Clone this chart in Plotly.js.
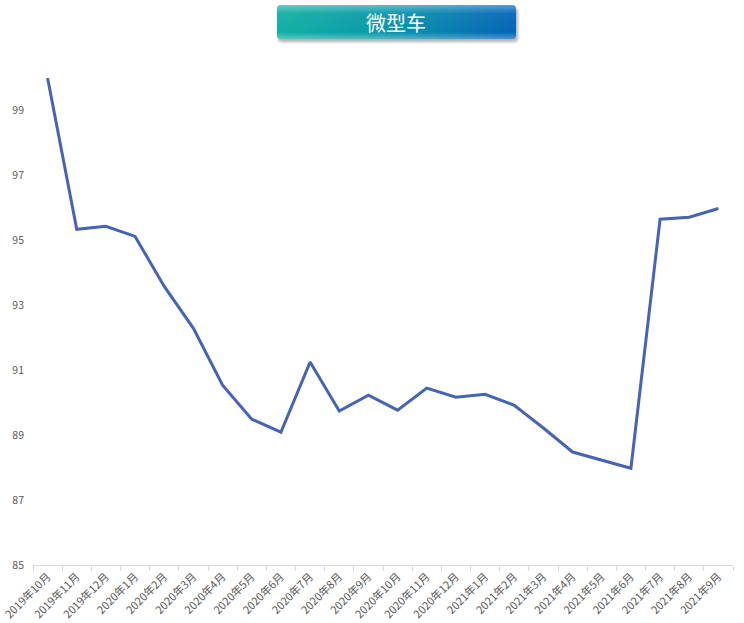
<!DOCTYPE html>
<html>
<head>
<meta charset="utf-8">
<script src="https://cdn.plot.ly/plotly-3.0.1.min.js"></script>
<style>
  html, body { margin: 0; padding: 0; background: #fff; }
  #chart { width: 744px; height: 623px; }
</style>
</head>
<body>
<div id="chart"></div>
<script>
var months = ['2019年10月', '2019年11月', '2019年12月', '2020年1月', '2020年2月', '2020年3月',
              '2020年4月', '2020年5月', '2020年6月', '2020年7月', '2020年8月', '2020年9月',
              '2020年10月', '2020年11月', '2020年12月', '2021年1月', '2021年2月', '2021年3月',
              '2021年4月', '2021年5月', '2021年6月', '2021年7月', '2021年8月', '2021年9月'];
var values = [100.0, 95.34, 95.43, 95.12, 93.58, 92.29,
              90.54, 89.49, 89.09, 91.25, 89.74, 90.23,
              89.77, 90.45, 90.17, 90.26, 89.92, 89.22,
              88.48, 88.23, 87.98, 95.65, 95.71, 95.98];
var yTicks = [85, 87, 89, 91, 93, 95, 97, 99];
var chartTitle = '微型车';

var W = 744, H = 623;
var margin = {l: 33, r: 11, t: 78, b: 58, pad: 0};

// title banner: gradient box drawn as an svg image
var svg = '<svg xmlns="http://www.w3.org/2000/svg" width="250" height="42">' +
  '<defs><linearGradient id="g" x1="0" y1="0" x2="1" y2="0">' +
  '<stop offset="0" stop-color="#13b1a2"/><stop offset="0.45" stop-color="#0a97ab"/>' +
  '<stop offset="1" stop-color="#0664b6"/></linearGradient>' +
  '<linearGradient id="h" x1="0" y1="0" x2="0" y2="1">' +
  '<stop offset="0" stop-color="#ffffff" stop-opacity="0.35"/>' +
  '<stop offset="0.25" stop-color="#ffffff" stop-opacity="0.05"/>' +
  '<stop offset="0.8" stop-color="#ffffff" stop-opacity="0"/>' +
  '<stop offset="1" stop-color="#ffffff" stop-opacity="0.3"/></linearGradient>' +
  '<filter id="s" x="-10%" y="-20%" width="120%" height="160%"><feGaussianBlur stdDeviation="1.6"/></filter></defs>' +
  '<rect x="4" y="5" width="240" height="34" rx="4" fill="#000" opacity="0.3" filter="url(#s)"/>' +
  '<rect x="3" y="2" width="239" height="34" rx="4" fill="url(#g)"/>' +
  '<rect x="3" y="2" width="239" height="34" rx="4" fill="url(#h)"/>' +
  '</svg>';
var svgUri = 'data:image/svg+xml;base64,' + btoa(svg);

var plotW = W - margin.l - margin.r;
var plotH = H - margin.t - margin.b;
function px(x) { return (x - margin.l) / plotW; }
function py(y) { return (H - margin.b - y) / plotH; }

var data = [{
  x: months,
  y: values,
  type: 'scatter',
  mode: 'lines',
  line: {color: '#4664b2', width: 3},
  cliponaxis: false,
  hoverinfo: 'x+y'
}];

var layout = {
  width: W,
  height: H,
  margin: margin,
  paper_bgcolor: '#ffffff',
  plot_bgcolor: '#ffffff',
  showlegend: false,
  font: {family: '"Noto Sans CJK SC", "Noto Sans", sans-serif', color: '#595959', size: 10},
  xaxis: {
    type: 'category',
    range: [-0.5, months.length - 0.5],
    showgrid: false,
    zeroline: false,
    showline: true,
    linecolor: '#d9d9d9',
    linewidth: 1,
    ticks: 'outside',
    tickson: 'boundaries',
    ticklen: 5,
    tickcolor: '#d9d9d9',
    tickangle: -45,
    tickfont: {size: 11, color: '#595959'},
    fixedrange: true
  },
  yaxis: {
    range: [85, 100],
    tickvals: yTicks,
    ticktext: yTicks.map(String),
    showgrid: false,
    zeroline: false,
    showline: false,
    ticks: '',
    ticklabelstandoff: 8,
    tickfont: {size: 10.5, color: '#595959'},
    fixedrange: true
  },
  images: [{
    source: svgUri,
    xref: 'paper', yref: 'paper',
    x: px(274), y: py(3),
    sizex: px(524) - px(274), sizey: py(3) - py(45),
    sizing: 'stretch',
    xanchor: 'left', yanchor: 'top',
    layer: 'above'
  }],
  annotations: [{
    text: chartTitle,
    xref: 'paper', yref: 'paper',
    x: px(396), y: py(22),
    xanchor: 'center', yanchor: 'middle',
    showarrow: false,
    font: {size: 20, color: '#ffffff', family: '"Noto Sans CJK SC", sans-serif'}
  }]
};

Plotly.newPlot('chart', data, layout, {displayModeBar: false, responsive: false});
</script>
</body>
</html>
